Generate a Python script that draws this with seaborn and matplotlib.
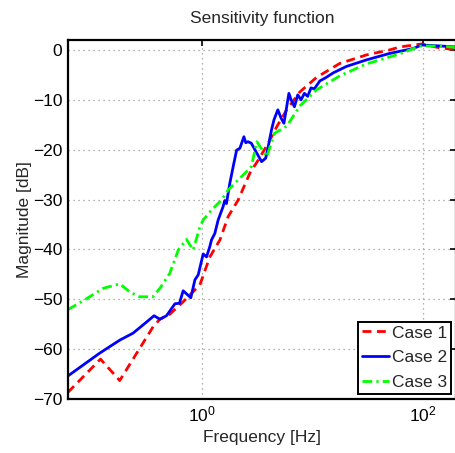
import matplotlib
matplotlib.use("Agg")
import matplotlib.pyplot as plt
import seaborn as sns
import numpy as np
import pandas as pd

# ---- data (frequency in Hz, magnitude in dB) ----
freq_case1 = [0.0617, 0.122, 0.182, 0.365, 0.420, 0.516, 0.682, 0.966, 1.189, 1.466,
              1.742, 2.143, 2.735, 3.251, 4.009, 4.786, 5.888, 7.762, 10.96, 17.78,
              30.9, 50.1, 61.7, 97.7, 144.5, 199.5]
mag_case1 = [-68.7, -62.0, -66.3, -55.5, -54.0, -53.0, -50.5, -47.1, -41.5, -38.1,
             -33.4, -30.1, -24.7, -22.1, -18.7, -15.4, -12.0, -8.4, -5.5, -2.7,
             -1.0, 0.0, 0.6, 1.2, 0.4, 0.1]

freq_case2 = [0.0617, 0.120, 0.182, 0.240, 0.309, 0.372, 0.420, 0.482, 0.575, 0.631,
              0.682, 0.800, 0.871, 0.933, 1.035, 1.109, 1.189, 1.230, 1.318, 1.413,
              1.567, 1.622, 1.679, 1.803, 1.932, 2.075, 2.223, 2.415, 2.512, 2.630,
              2.818, 3.162, 3.491, 3.802, 4.009, 4.295, 4.519, 4.898, 5.248, 5.559,
              6.166, 6.457, 6.918, 7.413, 7.943, 8.511, 9.12, 9.77, 10.47, 11.75,
              13.18, 15.49, 20.42, 30.9, 50.1, 82.2, 97.7, 144.5, 199.5]
mag_case2 = [-65.4, -60.8, -58.2, -56.8, -54.8, -53.3, -54.0, -53.3, -50.9, -50.8,
             -48.3, -49.7, -46.1, -45.1, -40.9, -41.5, -39.4, -38.1, -36.8, -34.1,
             -31.4, -30.2, -30.8, -26.7, -23.4, -20.1, -19.7, -17.4, -18.6, -18.4,
             -18.7, -20.7, -22.4, -21.7, -19.4, -16.0, -14.0, -12.0, -13.7, -14.7,
             -8.7, -10.0, -11.4, -9.0, -10.0, -8.7, -9.3, -7.6, -7.8, -6.2,
             -5.6, -4.6, -3.3, -2.0, -0.7, 0.3, 1.0, 0.8, 0.6]

freq_case3 = [0.0617, 0.0879, 0.129, 0.182, 0.224, 0.275, 0.363, 0.420, 0.516, 0.617,
              0.731, 0.839, 0.966, 1.035, 1.230, 1.514, 1.738, 2.138, 2.553, 2.818,
              3.162, 3.89, 4.571, 5.888, 7.762, 10.96, 17.78, 30.9, 61.7, 95.5,
              144.5, 199.5]
mag_case3 = [-52.1, -50.1, -47.8, -46.9, -48.5, -49.5, -49.5, -47.8, -44.8, -40.1,
             -38.0, -40.1, -35.5, -34.1, -32.1, -30.1, -28.1, -26.1, -24.4, -23.4,
             -18.4, -21.4, -16.7, -15.3, -11.2, -8.0, -5.2, -2.8, -0.8, 0.8,
             0.8, 0.5]

labels = ["Case 1", "Case 2", "Case 3"]
colors = ["#ff0000", "#0000ff", "#00ff00"]
x_ticks = [1, 100]
x_tick_labels = [r"$10^0$", r"$10^2$"]
y_ticks = [0, -10, -20, -30, -40, -50, -60, -70]

# ---- style ----
sns.set_style("white")
plt.rcParams["font.family"] = ["Liberation Sans", "DejaVu Sans"]
plt.rcParams["mathtext.fontset"] = "custom"
plt.rcParams["mathtext.rm"] = "Liberation Sans"
plt.rcParams["mathtext.it"] = "Liberation Sans:italic"
plt.rcParams["axes.unicode_minus"] = True
FS = 12.5

fig = plt.figure(figsize=(4.55, 4.53), dpi=100)
ax = fig.add_axes([68 / 455, 1 - 399 / 453, (456 - 68) / 455, (399 - 40) / 453])

series = [(freq_case1, mag_case1, (0, (3.2, 2)), labels[0], colors[0]),
          (freq_case2, mag_case2, "-", labels[1], colors[1]),
          (freq_case3, mag_case3, (0, (3.5, 1.5, 0.8, 1.5)), labels[2], colors[2])]

for f, m, ls, lab, col in series:
    df = pd.DataFrame({"Frequency": f, "Magnitude": m})
    sns.lineplot(data=df, x="Frequency", y="Magnitude", ax=ax, color=col,
                 linestyle=ls, linewidth=2.0, label=lab, estimator=None, sort=False)

ax.set_xscale("log")
ax.set_xlim(0.062, 200)
ax.set_ylim(-70, 2)
ax.set_xticks(x_ticks)
ax.set_xticklabels(x_tick_labels)
ax.xaxis.set_minor_locator(matplotlib.ticker.NullLocator())
ax.set_yticks(y_ticks)
ax.tick_params(axis="both", which="major", direction="in", length=4, width=1.2,
               labelsize=FS, top=True, right=True, pad=4, colors="black")
ax.grid(True, which="major", linestyle=(0, (1, 3)), color="#999999", linewidth=0.9)
for sp in ax.spines.values():
    sp.set_linewidth(1.6)
    sp.set_color("black")

ax.set_xlabel("Frequency [Hz]", fontsize=FS, labelpad=4)
ax.set_ylabel("Magnitude [dB]", fontsize=FS, labelpad=1)
ax.set_title("Sensitivity function", fontsize=FS, pad=12)

leg = ax.legend(loc="lower right", fontsize=FS, frameon=True, fancybox=False,
                edgecolor="black", framealpha=1, borderaxespad=0.3,
                handlelength=1.55, handletextpad=0.15, labelspacing=0.55,
                borderpad=0.22)
leg.get_frame().set_linewidth(1.4)

fig.savefig("out.png", dpi=100)
